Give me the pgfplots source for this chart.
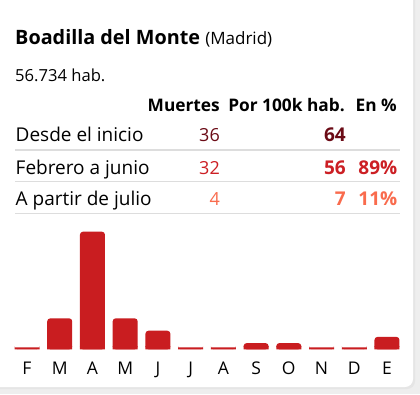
\documentclass[border=0pt]{standalone}
\usepackage{pgfplots}
\pgfplotsset{compat=1.18}
\usepackage{pgfplotstable}
\usepackage{fontspec}
\setmainfont{Open Sans}
\definecolor{dk}{HTML}{6B0B16}
\definecolor{rd}{HTML}{CC1F24}
\definecolor{sl}{HTML}{F96B4D}
\definecolor{barc}{HTML}{C91D20}
\definecolor{sep}{HTML}{DDDDDD}
\definecolor{bg}{HTML}{EEEEEE}
\pgfplotstableread{
m v
0 0
1 5
2 19
3 5
4 3
5 0
6 0
7 1
8 1
9 0
10 0
11 2
}\monthly
\newcommand{\fs}[1]{\fontsize{#1}{#1}\selectfont}
\begin{document}
\begin{tikzpicture}
\useasboundingbox (0,0) rectangle (420pt,-394pt);
\fill[bg] (0,0) rectangle (420pt,-394pt);
\fill[black!10, rounded corners=8pt] (-12pt,12pt) rectangle (415pt,-389pt);
\fill[white, rounded corners=8pt] (-12pt,12pt) rectangle (413pt,-387pt);
% title
\node[anchor=base west, inner sep=0pt, font=\bfseries\fs{19.8}] at (15pt,-44pt) {Boadilla del Monte {\mdseries\fs{17}(Madrid)}};
\node[anchor=base west, inner sep=0pt, font=\fs{16.6}] at (15pt,-81.7pt) {56.734 hab.};
% header
\node[anchor=base east, inner sep=0pt, font=\bfseries\fs{17.3}] at (220pt,-111.7pt) {Muertes};
\node[anchor=base east, inner sep=0pt, font=\bfseries\fs{17.3}] at (345pt,-111.7pt) {Por 100k hab.};
\node[anchor=base east, inner sep=0pt, font=\bfseries\fs{17.3}] at (397pt,-111.7pt) {En \%};
% rows
\node[anchor=base west, inner sep=0pt, font=\fs{19}] at (15.5pt,-141.7pt) {Desde el inicio};
\node[anchor=base west, inner sep=0pt, font=\fs{19}] at (15.5pt,-174pt) {Febrero a junio};
\node[anchor=base west, inner sep=0pt, font=\fs{19}] at (15.5pt,-205pt) {A partir de julio};
\node[anchor=base east, inner sep=0pt, font=\fs{18}, text=dk] at (220pt,-141.7pt) {36};
\node[anchor=base east, inner sep=0pt, font=\fs{18}, text=rd] at (220pt,-174pt) {32};
\node[anchor=base east, inner sep=0pt, font=\fs{18}, text=sl] at (220pt,-205pt) {4};
\node[anchor=base east, inner sep=0pt, font=\bfseries\fs{19}, text=dk] at (346pt,-141.7pt) {64};
\node[anchor=base east, inner sep=0pt, font=\bfseries\fs{19}, text=rd] at (346pt,-174pt) {56};
\node[anchor=base east, inner sep=0pt, font=\bfseries\fs{19}, text=sl] at (346pt,-205pt) {7};
\node[anchor=base east, inner sep=0pt, font=\bfseries\fs{19}, text=rd] at (397.5pt,-174pt) {89\%};
\node[anchor=base east, inner sep=0pt, font=\bfseries\fs{19}, text=sl] at (397.5pt,-205pt) {11\%};
% separators
\draw[sep, line width=1.3pt] (15pt,-150pt) -- (400pt,-150pt);
\draw[sep, line width=1.3pt] (15pt,-181.7pt) -- (400pt,-181.7pt);
\draw[sep, line width=1.3pt] (15pt,-213.3pt) -- (400pt,-213.3pt);
\begin{axis}[
  at={(10.64pt,-349.3pt)}, anchor=south west,
  scale only axis, width=392.7pt, height=123.8pt,
  xmin=-0.5, xmax=11.5, ymin=0, ymax=20,
  axis line style={draw=none},
  ytick=\empty,
  xtick={0,...,11},
  xticklabels={F,M,A,M,J,J,A,S,O,N,D,E},
  major tick length=0pt,
  xticklabel style={font=\fs{17.5}, anchor=base, yshift=-24.7pt, inner sep=0pt},
  clip=false,
]
\addplot[ybar, bar width=25pt, bar shift=0pt, fill=barc, draw=none, rounded corners=3pt]
  table[x=m, y=v] {\monthly};
\addplot[ybar, bar width=25pt, bar shift=0pt, fill=barc, draw=none]
  table[x=m, y expr={max(0.3,min(\thisrow{v},0.5))}] {\monthly};
\end{axis}
\end{tikzpicture}
\end{document}
